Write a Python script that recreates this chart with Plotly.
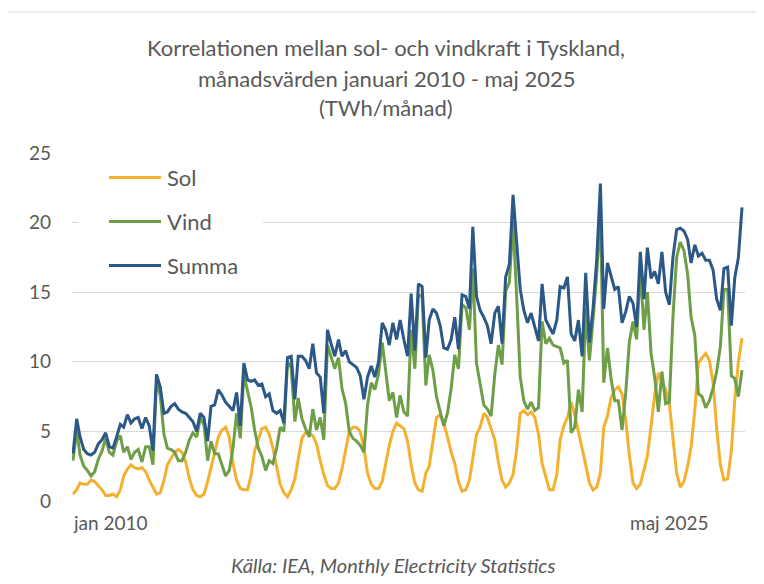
import pandas as pd
import plotly.graph_objects as go

# ---- data (TWh / month), Jan 2010 .. May 2025 ----
start_month = "2010-01-01"
n_months = 185
series_names = ["Sol", "Vind", "Summa"]
x_tick_labels = ["jan 2010", "maj 2025"]

sol = [
    0.5, 0.8, 1.3, 1.2, 1.2, 1.5, 1.4, 1.1, 0.8, 0.4, 0.4, 0.5,
    0.3, 0.8, 1.8, 2.3, 2.6, 2.4, 2.3, 2.4, 2.1, 1.5, 1.0, 0.5,
    0.6, 1.5, 2.6, 3.1, 3.5, 3.7, 3.5, 2.8, 1.6, 0.8, 0.4, 0.3,
    0.5, 1.4, 2.5, 3.5, 4.6, 5.1, 5.3, 4.6, 2.7, 1.5, 0.9, 0.8,
    0.8, 1.9, 3.6, 4.5, 5.2, 5.3, 4.8, 3.8, 2.5, 1.2, 0.6, 0.3,
    0.8, 1.6, 3.0, 4.5, 4.9, 4.9, 4.7, 4.1, 2.9, 1.9, 1.1, 0.9,
    0.9, 1.3, 2.3, 3.8, 5.0, 5.3, 5.3, 5.0, 3.8, 2.0, 1.2, 0.9,
    0.9, 1.4, 2.7, 4.0, 5.0, 5.6, 5.4, 5.2, 4.3, 2.6, 1.3, 0.8,
    0.7, 2.0, 2.5, 4.4, 6.0, 6.2, 5.6, 4.6, 3.5, 2.7, 1.4, 0.7,
    0.8, 1.5, 3.0, 4.8, 5.3, 6.3, 6.0, 5.2, 4.4, 2.8, 1.5, 1.0,
    1.3, 1.9, 3.6, 6.3, 6.5, 6.2, 6.4, 6.0, 4.8, 2.7, 1.7, 0.8,
    0.8, 1.9, 4.4, 5.4, 6.0, 7.1, 6.2, 5.0, 4.0, 2.6, 1.3, 0.8,
    1.0, 2.0, 5.3, 6.1, 7.4, 8.0, 8.2, 7.7, 5.8, 3.3, 1.3, 0.9,
    1.2, 2.2, 3.2, 5.4, 7.6, 9.2, 8.6, 8.0, 7.0, 4.3, 2.0, 1.0,
    1.4, 2.5, 3.9, 6.5, 9.9, 10.3, 10.6, 10.1, 8.5, 5.2, 2.6, 1.5,
    1.6, 3.6, 7.2, 10.0, 11.7,
]

vind = [
    2.9, 5.1, 3.3, 2.5, 2.2, 1.8, 2.1, 3.0, 3.6, 4.5, 3.5, 3.3,
    4.3, 4.7, 3.5, 3.9, 3.0, 3.5, 3.7, 2.8, 3.9, 3.9, 2.6, 8.6,
    7.6, 4.8, 3.8, 3.7, 3.5, 2.9, 2.9, 3.5, 4.4, 4.9, 4.6, 6.0,
    5.5, 2.9, 4.3, 3.4, 3.4, 2.5, 1.8, 2.2, 3.8, 6.3, 4.5, 9.1,
    7.9, 6.7, 5.1, 3.8, 3.2, 2.2, 2.9, 2.7, 3.8, 5.3, 5.0, 10.0,
    9.6, 5.7, 7.4, 5.9, 5.2, 4.6, 6.6, 5.1, 6.0, 4.4, 11.2, 10.4,
    9.5, 10.3, 8.1, 7.0, 5.0, 4.5, 4.3, 4.0, 3.5, 6.9, 8.5, 8.0,
    9.1, 11.4, 9.6, 7.2, 7.8, 6.0, 7.6, 6.4, 6.1, 12.3, 9.5, 14.8,
    14.7, 8.3, 10.5, 9.4, 7.5, 6.4, 5.4, 6.3, 8.1, 10.5, 9.5, 14.1,
    13.9, 12.3, 16.7, 9.9, 8.4, 6.9, 6.6, 6.1, 9.1, 11.2, 9.8, 15.1,
    15.7, 20.1, 14.9, 8.9, 7.2, 6.6, 7.1, 6.5, 6.7, 12.9, 11.3, 11.7,
    11.2, 11.1, 11.0, 9.9, 10.1, 4.9, 5.3, 8.0, 6.4, 13.8, 10.1, 13.0,
    16.3, 20.8, 8.5, 11.0, 8.8, 7.2, 7.2, 5.1, 7.8, 11.4, 12.9, 11.6,
    16.7, 12.3, 15.0, 10.6, 8.9, 6.4, 9.3, 7.0, 7.1, 13.2, 17.5, 18.6,
    18.0, 16.3, 13.2, 11.9, 7.7, 7.5, 6.7, 7.2, 8.1, 9.3, 11.1, 15.2,
    15.2, 9.0, 8.8, 7.5, 9.4,
]

summa = [
    3.4, 5.9, 4.6, 3.7, 3.4, 3.3, 3.5, 4.1, 4.4, 4.9, 3.9, 3.8,
    4.6, 5.5, 5.3, 6.2, 5.6, 5.9, 6.0, 5.2, 6.0, 5.4, 3.6, 9.1,
    8.2, 6.3, 6.4, 6.8, 7.0, 6.6, 6.4, 6.3, 6.0, 5.7, 5.0, 6.3,
    6.0, 4.3, 6.8, 6.9, 8.0, 7.6, 7.1, 6.8, 6.5, 7.8, 5.4, 9.9,
    8.7, 8.6, 8.7, 8.3, 8.4, 7.5, 7.7, 6.5, 6.3, 6.5, 5.6, 10.3,
    10.4, 7.3, 10.4, 10.4, 10.1, 9.5, 11.3, 9.2, 8.9, 6.3, 12.3, 11.3,
    10.4, 11.6, 10.4, 10.8, 10.0, 9.8, 9.6, 9.0, 7.3, 8.9, 9.7, 8.9,
    10.0, 12.8, 12.3, 11.2, 12.8, 11.6, 13.0, 11.6, 10.4, 14.9, 10.8, 15.6,
    15.4, 10.3, 13.0, 13.8, 13.5, 12.6, 11.0, 10.9, 11.6, 13.2, 10.9, 14.8,
    14.7, 13.8, 19.7, 14.7, 13.7, 13.2, 12.6, 11.3, 13.5, 14.0, 11.3, 16.1,
    17.0, 22.0, 18.5, 15.2, 13.7, 12.8, 13.5, 12.5, 11.5, 15.6, 13.0, 12.5,
    12.0, 13.0, 15.4, 15.3, 16.1, 12.0, 11.5, 13.0, 10.4, 16.4, 11.4, 13.8,
    17.3, 22.8, 13.8, 17.1, 16.2, 15.2, 15.4, 12.8, 13.6, 14.7, 14.2, 12.5,
    17.9, 14.5, 18.2, 16.0, 16.5, 15.6, 17.9, 15.0, 14.1, 17.5, 19.5, 19.6,
    19.4, 18.8, 17.1, 18.4, 17.6, 17.8, 17.3, 17.3, 16.6, 14.5, 13.7, 16.7,
    16.8, 12.6, 16.0, 17.5, 21.1,
]

months = pd.date_range(start_month, periods=n_months, freq="MS")

# ---- styling ----
colors = {"Sol": "#F4B12F", "Vind": "#6E9E48", "Summa": "#2C5887"}
text_color = "#595959"
grid_color = "#D9D9D9"
font_family = "Lato, 'Open Sans', sans-serif"

W, H = 764, 584
OFF = 8  # page body margin: figure starts at (8, 8) on the page
# plot area in page pixels
PL, PR, PT, PB = 72, 745, 153, 501
pw, ph = PR - PL, PB - PT


def px(xp):
    return (xp - PL) / pw


def py(yp):
    return (PB - yp) / ph


fig = go.Figure()
for name, vals in zip(series_names, [sol, vind, summa]):
    fig.add_trace(go.Scatter(
        x=months, y=vals, mode="lines", name=name,
        line=dict(color=colors[name], width=3),
        showlegend=False, hoverinfo="skip",
    ))

shapes = []
# outer chart frame
shapes.append(dict(type="rect", xref="paper", yref="paper",
                   x0=px(5), x1=px(790), y0=py(620), y1=py(12),
                   line=dict(color=grid_color, width=1), fillcolor="rgba(0,0,0,0)",
                   layer="below"))
# legend box (white, covers grid line)
shapes.append(dict(type="rect", xref="paper", yref="paper",
                   x0=px(78), x1=px(263), y0=py(288), y1=py(158),
                   line=dict(width=0), fillcolor="white", layer="above"))
legend_rows = [177.5, 221.5, 265.5]
annotations = []
for name, yrow in zip(series_names, legend_rows):
    shapes.append(dict(type="line", xref="paper", yref="paper",
                       x0=px(109), x1=px(161), y0=py(yrow), y1=py(yrow),
                       line=dict(color=colors[name], width=3), layer="above"))
    annotations.append(dict(xref="paper", yref="paper", x=px(165), y=py(yrow),
                            text=name, showarrow=False, xanchor="left", yanchor="middle",
                            font=dict(family=font_family, size=22, color=text_color)))

# title lines
title_lines = ["Korrelationen mellan sol- och vindkraft i Tyskland,",
               "månadsvärden januari 2010 - maj 2025",
               "(TWh/månad)"]
for t, yc in zip(title_lines, [47, 78, 108]):
    annotations.append(dict(xref="paper", yref="paper", x=px(386), y=py(yc),
                            text=t, showarrow=False, xanchor="center", yanchor="middle",
                            font=dict(family=font_family, size=22, color=text_color)))

# x tick labels
for t, xc in zip(x_tick_labels, [110, 669]):
    annotations.append(dict(xref="paper", yref="paper", x=px(xc), y=py(522),
                            text=t, showarrow=False, xanchor="center", yanchor="middle",
                            font=dict(family=font_family, size=19, color=text_color)))

# source
annotations.append(dict(xref="paper", yref="paper", x=px(393), y=py(565),
                        text="<i>Källa: IEA, Monthly Electricity Statistics</i>",
                        showarrow=False, xanchor="center", yanchor="middle",
                        font=dict(family=font_family, size=20, color=text_color)))

fig.update_layout(
    width=W, height=H,
    margin=dict(l=PL - OFF, r=W - (PR - OFF), t=PT - OFF, b=H - (PB - OFF), pad=0),
    paper_bgcolor="white", plot_bgcolor="white",
    shapes=shapes, annotations=annotations,
    showlegend=False,
    xaxis=dict(type="date", range=["2009-12-23 15:00", "2025-05-26 03:00"],
               showgrid=False, zeroline=False, showline=False,
               showticklabels=False, ticks=""),
    yaxis=dict(range=[0, 25], dtick=5, tick0=0, showgrid=True,
               gridcolor=grid_color, gridwidth=1, zeroline=False, showline=False,
               ticks="", ticklabelstandoff=20,
               tickfont=dict(family=font_family, size=19, color=text_color)),
)

fig.write_html("out.html")
